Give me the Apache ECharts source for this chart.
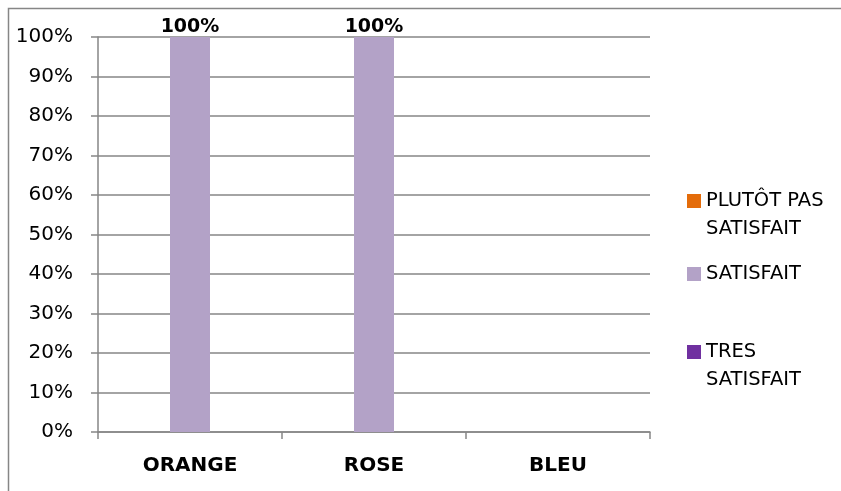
<!DOCTYPE html>
<html><head><meta charset="utf-8">
<script src="https://cdn.jsdelivr.net/npm/echarts@6/dist/echarts.min.js"></script>
<style>html,body{margin:0;padding:0;background:#fff}#c{width:841px;height:491px}</style>
</head><body><div id="c"></div>
<script>
const categories = ['ORANGE', 'ROSE', 'BLEU'];
const seriesNames = ['PLUTÔT PAS SATISFAIT', 'SATISFAIT', 'TRES SATISFAIT'];
const plutotPas = [null, null, null];
const satisfait = [100, 100, null];
const tresSatisfait = [null, null, null];
const yTicks = [0, 10, 20, 30, 40, 50, 60, 70, 80, 90, 100];

const colors = ['#E46C0A', '#B3A2C7', '#7030A0'];
const FONT = 'DejaVu Sans';
const legendNames = {
  'PLUTÔT PAS SATISFAIT': '\nPLUTÔT PAS\nSATISFAIT',
  'SATISFAIT': 'SATISFAIT',
  'TRES SATISFAIT': '\nTRES\nSATISFAIT'
};
function mkLegend(name, top) {
  return {
    orient: 'vertical', left: 687, top: top, padding: 0,
    data: [name], itemWidth: 14, itemHeight: 14, icon: 'rect',
    formatter: n => legendNames[n],
    selectedMode: false,
    textStyle: { fontFamily: FONT, fontSize: 19.5, color: '#000', lineHeight: 28 }
  };
}
const chart = echarts.init(document.getElementById('c'), null, { renderer: 'canvas' });
chart.setOption({
  animation: false,
  color: colors,
  graphic: [{
    type: 'polyline', shape: { points: [[8.5, 491], [8.5, 8.5], [841, 8.5]] },
    style: { stroke: '#868686', lineWidth: 1.5, fill: null }
  }],
  legend: [
    mkLegend(seriesNames[0], 159),
    mkLegend(seriesNames[1], 260),
    mkLegend(seriesNames[2], 310)
  ],
  grid: { left: 98, right: 191, top: 37, bottom: 59, containLabel: false },
  xAxis: {
    type: 'category', data: categories,
    axisLine: { lineStyle: { color: '#868686', width: 1.5 } },
    axisTick: { show: true, length: 7, lineStyle: { color: '#868686', width: 1.5 } },
    axisLabel: { fontFamily: FONT, fontWeight: 'bold', fontSize: 20, color: '#000', margin: 24 }
  },
  yAxis: {
    type: 'value', min: yTicks[0], max: yTicks[yTicks.length - 1], interval: 10,
    axisLine: { show: true, lineStyle: { color: '#868686', width: 1.5 } },
    axisTick: { show: true, length: 7, lineStyle: { color: '#868686', width: 1.5 } },
    splitLine: { lineStyle: { color: '#868686', width: 1.5 } },
    axisLabel: { formatter: '{value}%', fontFamily: FONT, fontSize: 20, color: '#000', margin: 25 }
  },
  series: [
    { name: seriesNames[0], type: 'bar', data: plutotPas, barWidth: 40, barGap: '0%' },
    { name: seriesNames[1], type: 'bar', data: satisfait, barWidth: 40, barGap: '0%',
      label: { show: true, position: 'top', distance: 0, formatter: p => p.value + '%',
               fontFamily: FONT, fontWeight: 'bold', fontSize: 19, color: '#000' } },
    { name: seriesNames[2], type: 'bar', data: tresSatisfait, barWidth: 40, barGap: '0%' }
  ]
});
</script></body></html>
